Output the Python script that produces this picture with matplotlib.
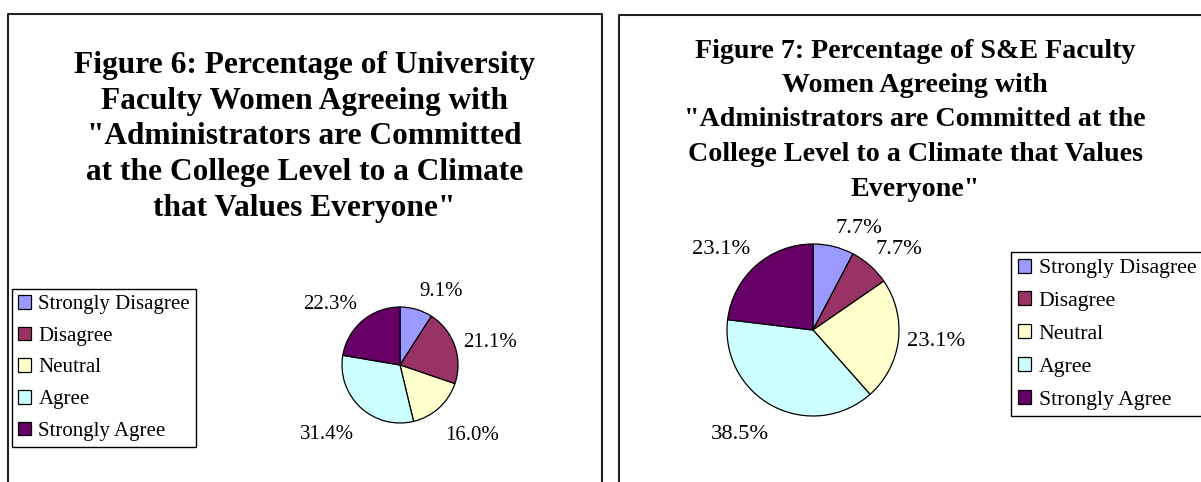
import numpy as np
import matplotlib
matplotlib.use("Agg")
import matplotlib.pyplot as plt
from matplotlib.lines import Line2D

# ─────────────────────────────────────────────────────────────
# DATA
# ─────────────────────────────────────────────────────────────
CATEGORIES = ["Strongly Disagree", "Disagree", "Neutral", "Agree", "Strongly Agree"]
COLORS     = ["#9999FF", "#993366", "#FFFFCC", "#CCFFFF", "#660066"]

UNIV_PCT = [9.1, 21.1, 16.0, 31.4, 22.3]     # Figure 6 - university faculty women
SE_PCT   = [7.7, 7.7, 23.1, 38.5, 23.1]      # Figure 7 - S&E faculty women

TITLE_6 = ("Figure 6: Percentage of University\n"
           "Faculty Women Agreeing with\n"
           "\"Administrators are Committed\n"
           "at the College Level to a Climate\n"
           "that Values Everyone\"")
TITLE_7 = ("Figure 7: Percentage of S&E Faculty\n"
           "Women Agreeing with\n"
           "\"Administrators are Committed at the\n"
           "College Level to a Climate that Values\n"
           "Everyone\"")

# ─────────────────────────────────────────────────────────────
# FIGURE
# ─────────────────────────────────────────────────────────────
W, H = 1201, 482
fig = plt.figure(figsize=(W / 100, H / 100), dpi=100)
plt.rcParams["font.family"] = ["Liberation Serif", "DejaVu Serif"]


def px(x, y):
    """pixel (from top-left) -> figure fraction"""
    return x / W, 1 - y / H


# panel borders (open at the bottom / right, as in the scan)
border = dict(color="#222222", linewidth=1.5)
for xs, ys in [([8, 8, 602, 602], [H + 5, 13.5, 13.5, H + 5]),
               ([619, 619, W + 5], [H + 5, 14.5, 14.5])]:
    fig.add_artist(Line2D([x / W for x in xs], [1 - y / H for y in ys],
                          transform=fig.transFigure, **border))


def draw_pie(cx, cy, r, values, fs):
    ax = fig.add_axes([(cx - r) / W, 1 - (cy + r) / H, 2 * r / W, 2 * r / H])
    wedges, _ = ax.pie(values, colors=COLORS, startangle=90,
                       counterclock=False,
                       wedgeprops=dict(edgecolor="black", linewidth=0.9))
    # outside-end data labels, anchored by the edge nearest the pie
    for w, v in zip(wedges, values):
        ang = np.deg2rad((w.theta1 + w.theta2) / 2)
        dx, dy = np.cos(ang), np.sin(ang)
        d = 1 + 9 / r
        ha = "left" if dx > 0 else "right"
        va = "bottom" if dy > 0.5 else ("top" if dy < -0.5 else "center")
        nudge = -8 if dy < -0.5 else 0     # lower labels sit a little lower
        ax.annotate(f"{v:.1f}%", xy=(dx * d, dy * d), xytext=(0, nudge),
                    textcoords="offset points", ha=ha, va=va, fontsize=fs,
                    annotation_clip=False)
    ax.set_xlim(-1, 1)
    ax.set_ylim(-1, 1)
    ax.axis("off")
    return wedges


def draw_legend(wedges, x, y, fs):
    fig.legend(wedges, CATEGORIES, loc="upper left",
               bbox_to_anchor=px(x, y), fontsize=fs,
               frameon=True, fancybox=False, shadow=False,
               edgecolor="black", framealpha=1,
               handlelength=0.62, handleheight=0.62, handletextpad=0.35,
               labelspacing=0.6, borderpad=0.3, borderaxespad=0)


# ── Figure 6 ──
fig.text(*px(304.5, 137), TITLE_6, ha="center", va="center",
         fontsize=22.6, fontweight="bold", linespacing=1.3)
w6 = draw_pie(400, 365, 58, UNIV_PCT, 15)
draw_legend(w6, 12, 289, 15)

# ── Figure 7 ──
fig.text(*px(915, 120), TITLE_7, ha="center", va="center",
         fontsize=20.2, fontweight="bold", linespacing=1.5)
w7 = draw_pie(813, 330, 86, SE_PCT, 16.2)
draw_legend(w7, 1011, 252, 15.7)

fig.savefig("out.png", dpi=100)
